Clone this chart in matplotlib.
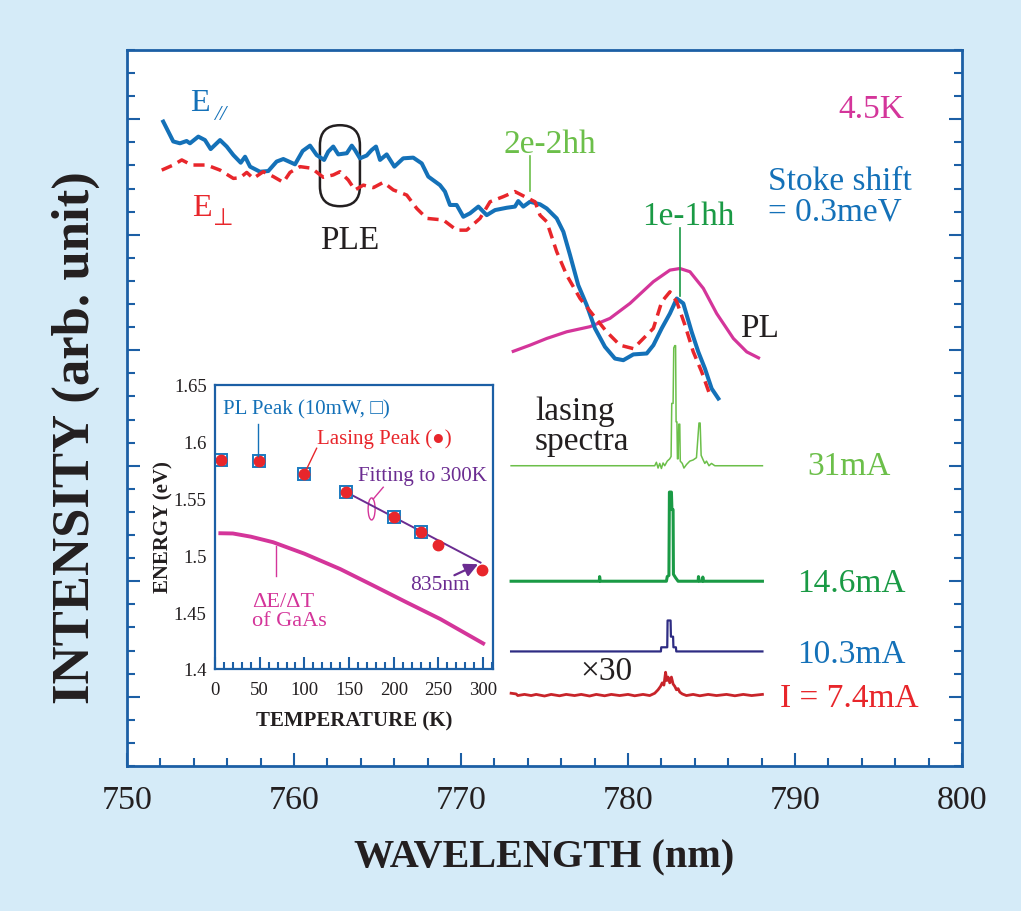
import numpy as np
import matplotlib
matplotlib.use('Agg')
import matplotlib.pyplot as plt
from matplotlib.patches import FancyBboxPatch, Ellipse, FancyArrowPatch
from matplotlib.transforms import ScaledTranslation
from matplotlib.ticker import MultipleLocator, FixedLocator

plt.rcParams['font.family'] = ['Liberation Serif', 'DejaVu Serif', 'DejaVu Sans']

# ---------------- main panel data (wavelength nm, intensity arb.) ----------------
ple_par_wl = [752.17, 752.77, 753.17, 753.57, 753.77, 754.27, 754.67, 755.01, 755.57, 755.97,
              756.37, 756.81, 757.07, 757.37, 757.96, 758.46, 758.96, 759.36, 760.06, 760.52,
              760.96, 761.36, 761.80, 762.05, 762.35, 762.65, 763.16, 763.46, 763.65, 763.95,
              764.35, 764.65, 764.91, 765.15, 765.55, 766.01, 766.54, 767.14, 767.65, 768.04,
              768.74, 769.04, 769.34, 769.74, 770.14, 770.54, 771.04, 771.54, 772.04, 772.74,
              773.23, 773.43, 773.73, 774.13, 774.73, 775.13, 775.73, 776.13, 776.53, 777.02,
              777.53, 778.02, 778.62, 779.22, 779.72, 780.32, 781.12, 781.52, 782.02, 782.51,
              782.92, 783.31, 783.81, 784.21, 784.61, 785.01, 785.41]
ple_par_int = [27.90, 27.04, 26.96, 27.06, 26.96, 27.25, 27.10, 26.71, 27.10, 26.82,
               26.45, 26.12, 26.38, 25.95, 25.73, 25.76, 26.17, 26.28, 26.05, 26.63,
               26.86, 26.45, 26.24, 26.60, 26.82, 26.48, 26.53, 26.86, 26.67, 26.31,
               26.43, 26.67, 26.82, 26.24, 26.48, 25.95, 26.31, 26.34, 26.09, 25.52,
               25.15, 24.87, 24.29, 24.29, 23.78, 23.93, 24.22, 23.85, 24.07, 24.17,
               24.22, 24.46, 24.22, 24.43, 24.32, 24.14, 23.71, 23.13, 22.12, 20.82,
               19.95, 18.95, 18.15, 17.64, 17.57, 17.82, 17.86, 18.22, 18.95, 19.59,
               20.24, 20.03, 18.80, 17.93, 17.20, 16.34, 15.91]

ple_perp_wl = [752.08, 752.77, 753.28, 753.87, 754.77, 755.57, 756.37, 756.77, 757.17, 757.56,
               758.16, 758.76, 759.36, 759.76, 760.36, 761.06, 761.75, 762.35, 762.75, 763.25,
               763.65, 764.15, 764.75, 765.35, 765.95, 766.75, 767.35, 767.95, 768.94, 769.74,
               770.34, 771.14, 771.74, 772.53, 773.23, 773.93, 774.43, 774.73, 775.13, 775.73,
               776.33, 777.13, 777.92, 778.72, 779.52, 780.32, 780.92, 781.52, 782.02, 782.51,
               782.92, 783.41, 783.91, 784.41, 784.91]
ple_perp_int = [25.80, 26.02, 26.24, 26.02, 26.02, 25.80, 25.44, 25.47, 25.70, 25.44,
                25.73, 25.52, 25.27, 25.70, 25.95, 25.88, 25.49, 25.59, 25.73, 25.37,
                24.94, 25.15, 25.04, 25.27, 24.94, 24.72, 24.14, 23.71, 23.64, 23.20,
                23.20, 23.71, 24.43, 24.65, 24.87, 24.61, 24.43, 23.85, 23.57, 22.27,
                21.25, 20.24, 19.52, 18.80, 18.22, 18.07, 18.51, 18.95, 20.10, 20.53,
                20.10, 19.09, 17.93, 17.07, 16.05]

pl_wl = [773.04, 774.13, 775.13, 776.33, 777.72, 778.92, 780.12, 781.52, 782.51, 783.11,
         783.71, 784.51, 785.31, 786.31, 787.11, 787.90]
pl_int = [17.93, 18.22, 18.51, 18.80, 19.02, 19.38, 20.03, 20.97, 21.47, 21.54,
          21.40, 20.68, 19.59, 18.51, 17.93, 17.64]

# lasing spectra (offset stacked)
las31_wl = [773.0, 781.6, 781.7, 781.8, 781.9, 782.0, 782.1, 782.2, 782.35, 782.5, 782.58, 782.62,
            782.7, 782.74, 782.8, 782.85, 782.88, 782.93, 782.96, 783.0, 783.04, 783.1, 783.13,
            783.25, 783.35, 783.5, 783.7, 783.9, 784.1, 784.25, 784.32, 784.38, 784.5, 784.6,
            784.7, 784.85, 785.0, 785.2, 788.05]
las31_int = [13.0, 13.0, 13.15, 12.9, 13.1, 12.88, 13.12, 13.0, 13.2, 13.3, 13.4, 15.7,
             15.7, 18.1, 18.2, 18.2, 14.9, 14.9, 13.3, 13.3, 14.8, 14.8, 13.2,
             13.1, 12.9, 13.05, 13.2, 13.25, 13.35, 14.85, 14.85, 13.45, 13.25, 13.1,
             13.2, 13.0, 13.1, 13.0, 13.0]

las146_wl = [773.0, 778.28, 778.3, 778.34, 782.3, 782.35, 782.45, 782.48, 782.6, 782.63, 782.7,
             782.72, 782.85, 783.0, 784.2, 784.22, 784.28, 784.45, 784.48, 784.52, 788.05]
las146_int = [8.0, 8.0, 8.2, 8.0, 8.0, 8.2, 8.25, 11.86, 11.86, 11.1, 11.1,
              8.3, 8.15, 8.0, 8.0, 8.2, 8.0, 8.0, 8.18, 8.0, 8.0]

las103_wl = [773.0, 781.97, 781.99, 782.35, 782.37, 782.55, 782.57, 782.7, 782.72, 782.87, 782.89, 788.05]
las103_int = [4.96, 4.96, 5.14, 5.14, 6.30, 6.30, 5.6, 5.6, 5.14, 5.14, 4.96, 4.96]

las74_wl = [773.0, 773.3, 773.4, 773.8, 774.2, 774.5, 775.0, 775.4, 775.9, 776.3, 776.8, 777.2,
            777.7, 778.1, 778.6, 779.0, 779.5, 780.0, 780.4, 780.9, 781.3, 781.6, 781.8, 781.95,
            782.05, 782.15, 782.25, 782.32, 782.4, 782.5, 782.6, 782.7, 782.8, 782.9, 783.0,
            783.1, 783.25, 783.5, 783.9, 784.3, 784.8, 785.3, 785.9, 786.4, 786.9, 787.4, 788.05]
las74_int = [3.15, 3.12, 3.05, 3.1, 3.05, 3.1, 3.03, 3.1, 3.04, 3.1, 3.05, 3.1,
             3.03, 3.1, 3.04, 3.1, 3.05, 3.1, 3.04, 3.1, 3.05, 3.15, 3.3, 3.45,
             3.6, 3.5, 4.06, 3.7, 3.85, 3.6, 3.85, 3.55, 3.45, 3.3, 3.35,
             3.2, 3.12, 3.05, 3.1, 3.04, 3.1, 3.05, 3.1, 3.04, 3.1, 3.05, 3.1]

current_labels = ['31mA', '14.6mA', '10.3mA', 'I = 7.4mA']

# ---------------- inset data (temperature K, energy eV) ----------------
pl_T = [7, 49, 100, 146, 200, 230]
pl_E = [1.584, 1.5835, 1.572, 1.556, 1.5335, 1.521]
las_T = [7, 49, 100, 146, 200, 230, 249, 299]
las_E = [1.584, 1.5835, 1.572, 1.556, 1.5335, 1.521, 1.509, 1.487]
fit_T = [147, 297]
fit_E = [1.5556, 1.4937]
gaas_T = [6, 20, 40, 65, 100, 140, 177, 214, 252, 300]
gaas_E = [1.5195, 1.5193, 1.5165, 1.5116, 1.5015, 1.488, 1.4735, 1.4588, 1.444, 1.4225]

# ---------------- colors ----------------
BG = '#d5ebf8'
FRAME = '#1c5fa5'
BLUE = '#1471b8'
RED = '#e8262b'
MAG = '#d4359a'
LGREEN = '#6cbf4a'
DGREEN = '#1a9a45'
NAVY = '#2e2c83'
DRED = '#c8242a'
PURPLE = '#6b2c91'
BLACK = '#231f20'

W, H = 1021, 912
fig = plt.figure(figsize=(W / 100, H / 100), dpi=100, facecolor=BG)
ax = fig.add_axes([127 / W, 1 - 767 / H, (962 - 127) / W, (767 - 51) / H])
ax.set_facecolor('white')
ax.set_xlim(750, 800)
ax.set_ylim(0, 31)
ax.xaxis.set_major_locator(MultipleLocator(10))
ax.xaxis.set_minor_locator(MultipleLocator(2))
ax.yaxis.set_major_locator(FixedLocator(np.arange(3, 31, 5)))
ax.yaxis.set_minor_locator(MultipleLocator(1))
ax.tick_params(which='both', direction='in', color=FRAME, width=1.5,
               left=True, right=True, top=False, bottom=True, labelleft=False,
               labelcolor=BLACK, labelsize=24.5, pad=13)
ax.tick_params(which='major', length=9.4)
ax.tick_params(which='minor', length=5.5)
for s in ax.spines.values():
    s.set_color(FRAME)
    s.set_linewidth(2)

# curves
ax.plot(pl_wl, pl_int, color=MAG, lw=2.3, solid_capstyle='butt')
ax.plot(ple_par_wl, ple_par_int, color=BLUE, lw=2.9, solid_joinstyle='round')
ax.plot(ple_perp_wl, ple_perp_int, color=RED, lw=2.5, linestyle=(0, (3.2, 1.9)))

ax.plot(las31_wl, las31_int, color=LGREEN, lw=1.1)
ax.plot(las146_wl, las146_int, color=DGREEN, lw=2.2)
ax.plot(las103_wl, las103_int, color=NAVY, lw=1.6)
ax.plot(las74_wl, las74_int, color=DRED, lw=2.0)

# annotations main
fs = 24
ax.text(753.75, 28.74, 'E', color=BLUE, fontsize=23, ha='left', va='center')
ax.text(755.6, 28.2, '//', color=BLUE, fontsize=16, ha='center', va='center', style='italic')
ax.text(753.89, 24.17, 'E', color=RED, fontsize=23, ha='left', va='center')
ax.text(755.75, 23.75, '⊥', color=RED, fontsize=17, ha='center', va='center',
        family=['DejaVu Sans'])
ax.text(763.35, 22.80, 'PLE', color=BLACK, fontsize=fs, ha='center', va='center')

# stadium around PLE feature
sw, sh = 0.40, 0.81
stad = FancyBboxPatch((-sw / 2, -sh / 2), sw, sh,
                      boxstyle='round,pad=0,rounding_size=%f' % (sw / 2 - 0.001),
                      fc='none', ec=BLACK, lw=1.8,
                      transform=fig.dpi_scale_trans + ScaledTranslation(762.75, 25.99, ax.transData))
ax.add_patch(stad)

ax.text(775.33, 26.96, '2e-2hh', color=LGREEN, fontsize=fs, ha='center', va='center')
ax.plot([774.13, 774.13], [26.40, 24.88], color=LGREEN, lw=1.2)
ax.text(783.59, 23.84, '1e-1hh', color=DGREEN, fontsize=fs, ha='center', va='center')
ax.plot([783.11, 783.11], [23.28, 20.33], color=DGREEN, lw=1.2)

ax.text(794.55, 28.44, '4.5K', color=MAG, fontsize=fs, ha='center', va='center')
ax.text(788.38, 25.36, 'Stoke shift', color=BLUE, fontsize=fs, ha='left', va='center')
ax.text(788.38, 24.04, '= 0.3meV', color=BLUE, fontsize=fs, ha='left', va='center')
ax.text(787.90, 18.99, 'PL', color=BLACK, fontsize=fs, ha='center', va='center')
ax.text(774.43, 15.40, 'lasing', color=BLACK, fontsize=fs, ha='left', va='center')
ax.text(774.43, 14.10, 'spectra', color=BLACK, fontsize=fs, ha='left', va='center')
ax.text(778.68, 4.12, '×30', color=BLACK, fontsize=fs, ha='center', va='center')

lab_cols = [LGREEN, DGREEN, BLUE, RED]
lab_y = [12.98, 7.93, 4.85, 2.95]
lab_x = [793.23, 793.35, 793.35, 793.23]
for t, c, xx, yy in zip(current_labels, lab_cols, lab_x, lab_y):
    ax.text(xx, yy, t, color=c, fontsize=fs, ha='center', va='center')

# axis labels
fig.text(544.5 / W, 1 - 858 / H, 'WAVELENGTH (nm)', fontsize=29, weight='bold',
         color=BLACK, ha='center', va='center')
fig.text(76 / W, 1 - 437.5 / H, 'INTENSITY (arb. unit)', fontsize=38, weight='bold',
         color=BLACK, ha='center', va='center', rotation=90)

# ---------------- inset ----------------
ins = fig.add_axes([215 / W, 1 - 670 / H, (493 - 215) / W, (670 - 386) / H])
ins.set_facecolor('white')
ins.set_xlim(0, 311)
ins.set_ylim(1.4, 1.65)
ins.xaxis.set_major_locator(MultipleLocator(50))
ins.xaxis.set_minor_locator(MultipleLocator(10))
ins.set_yticks([1.4, 1.45, 1.5, 1.55, 1.6, 1.65])
ins.set_yticklabels(['1.4', '1.45', '1.5', '1.55', '1.6', '1.65'])
ins.tick_params(axis='x', which='both', direction='in', color=FRAME, width=1.5,
                labelsize=13.5, labelcolor=BLACK, pad=9)
ins.tick_params(axis='x', which='major', length=8.5)
ins.tick_params(axis='x', which='minor', length=5)
ins.tick_params(axis='y', which='both', length=0, labelsize=13.5, labelcolor=BLACK, pad=6)
for s in ins.spines.values():
    s.set_color(FRAME)
    s.set_linewidth(1.6)

ins.plot(gaas_T, gaas_E, color=MAG, lw=2.8)
ins.plot(fit_T, fit_E, color=PURPLE, lw=1.4)
ins.plot(pl_T, pl_E, linestyle='none', marker='s', ms=9, mfc='none', mec='#1a7ac0', mew=1.4)
ins.plot(las_T, las_E, linestyle='none', marker='o', ms=7.5, mfc=RED, mec=RED)

fs2 = 15
ins.text(8.9, 1.6289, 'PL Peak (10mW, □)', color=BLUE, fontsize=fs2, ha='left', va='center')
ins.plot([47.7, 47.7], [1.6157, 1.5878], color=BLUE, lw=1.0)
ins.text(113.7, 1.6033, 'Lasing Peak (●)', color=RED, fontsize=fs2, ha='left', va='center')
ins.plot([113.7, 102.5], [1.5943, 1.576], color=RED, lw=1.0)
ins.text(159.9, 1.5699, 'Fitting to 300K', color=PURPLE, fontsize=fs2, ha='left', va='center')
ins.add_patch(Ellipse((175.2, 1.5409), 7.8, 0.0194, fc='none', ec=MAG, lw=1.0))
ins.plot([177, 188.2], [1.5496, 1.56], color=MAG, lw=1.0)
ins.text(218, 1.474, '835nm', color=PURPLE, fontsize=15.5, ha='left', va='center')
ins.add_patch(FancyArrowPatch((265, 1.4815), (297.1, 1.4933), arrowstyle='-|>',
                              mutation_scale=20, color=PURPLE, lw=1.6))
ins.text(41, 1.459, 'ΔE/ΔT', color=MAG, fontsize=16, ha='left', va='center')
ins.text(41, 1.4425, 'of GaAs', color=MAG, fontsize=16, ha='left', va='center')
ins.plot([68.2, 68.2], [1.5085, 1.4821], color=MAG, lw=1.0)

ins.text(0.5, -0.18, 'TEMPERATURE (K)', transform=ins.transAxes, fontsize=15,
         weight='bold', color=BLACK, ha='center', va='center')
ins.text(-0.186, 0.502, 'ENERGY (eV)', transform=ins.transAxes, fontsize=15,
         weight='bold', color=BLACK, ha='center', va='center', rotation=90)

fig.savefig('out.png', dpi=100, facecolor=BG)
